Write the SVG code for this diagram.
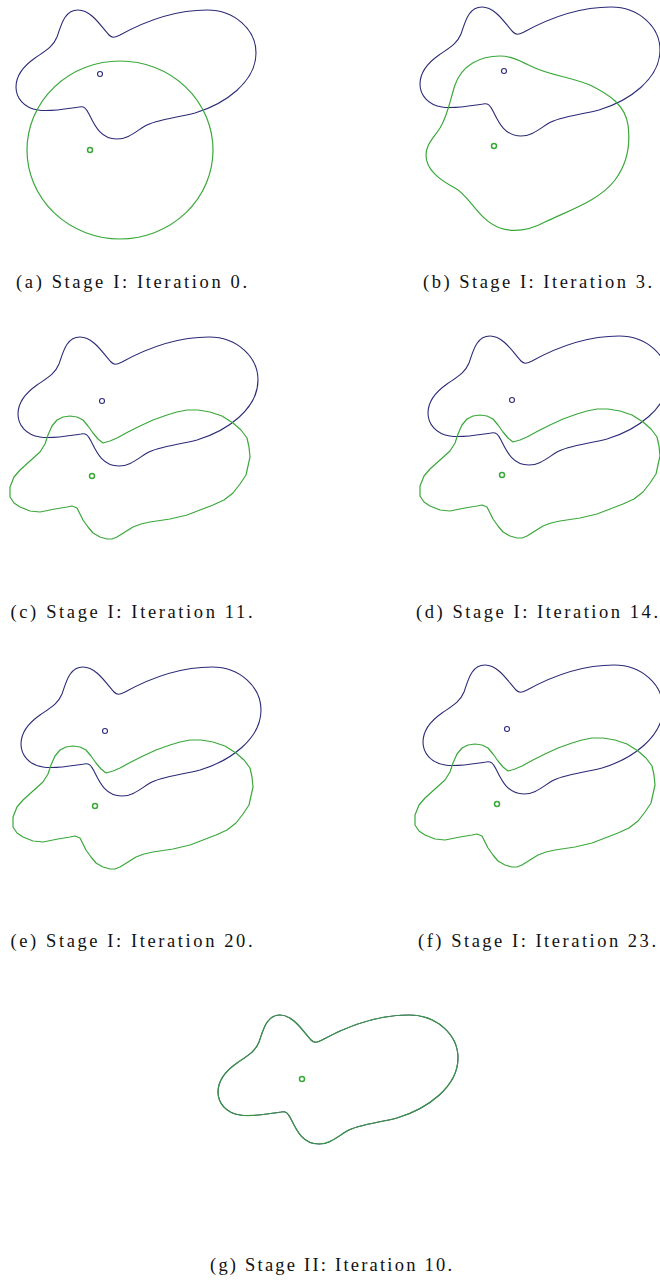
<svg xmlns="http://www.w3.org/2000/svg" xmlns:xlink="http://www.w3.org/1999/xlink" width="660" height="1280" viewBox="0 0 660 1280">
<style>
.b{fill:none;stroke:#2b2b78;stroke-width:1.1;stroke-linejoin:round}
.g{fill:none;stroke:#3aa83a;stroke-width:1.2;stroke-linejoin:round}
.mb{fill:none;stroke:#2b2b78;stroke-width:1.1}
.mg{fill:none;stroke:#3aa83a;stroke-width:1.5}
.cap{font-family:"Liberation Serif","DejaVu Serif",serif;font-size:18.5px;fill:#111;text-anchor:middle}
</style>
<defs>
<path id="tpl" d="M16,87 C16,75 25,65 35,58 C45,51 53,47 57,37 C61,26 64,10 78,10 C92,10 102,28 109,35 C112,38 114,38 120,35 C140,24 170,10 207,10 C235,10 256,30 256,53 C256,82 225,104 195,113 C175,118 155,120 145,126 C135,132 128,139 117,139 C100,139 94,124 89,114 C86,108 84,106 79,107 C65,109 50,112 38,110 C24,108 16,98 16,87 Z"/>
<path id="gc" d="M10,487 L14,477 L20,470 L30,461 L40,452 L45,444 L48,435 L52,426 L57,420 L63,417 L70,416 L77,417 L83,420 L88,426 L93,433 L98,439 L103,443 L110,441 L117,438 L128,432 L140,426 L153,420 L167,415 L177,412 L187,410 L198,410 L210,412 L222,416 L233,423 L241,430 L247,438 L249,447 L250,457 L248,466 L246,475 L240,484 L233,493 L224,500 L213,505 L200,510 L187,515 L170,519 L150,522 L141,524 L133,527 L125,532 L117,537 L112,539 L107,539 L100,537 L93,533 L88,527 L83,520 L80,514 L77,508 L72,506 L67,507 L55,509 L40,512 L30,511 L20,507 L14,503 L10,497 Z"/>
</defs>
<g id="panel-a">
<use href="#tpl" class="b"/>
<circle class="mb" cx="100" cy="74" r="2.5"/>
<ellipse class="g" cx="120" cy="150" rx="93" ry="89"/>
<circle class="mg" cx="90" cy="150" r="2.5"/>
<text class="cap" x="131.5" y="288" textLength="231" lengthAdjust="spacing">(a) Stage I: Iteration 0.</text>
</g>
<g id="panel-b">
<use href="#tpl" class="b" transform="translate(404,-3)"/>
<circle class="mb" cx="504" cy="71" r="2.5"/>
<path class="g" d="M500,56 C480,56 462,65 455,85 C450,100 448,115 440,128 C432,140 426,145 426,155 C426,170 440,180 455,188 C470,196 478,220 500,228 C515,233 530,230 545,222 C570,210 600,200 615,180 C630,160 630,140 628,125 C625,105 610,95 590,85 C570,77 550,75 535,68 C522,62 512,56 500,56 Z"/>
<circle class="mg" cx="494" cy="146" r="2.5"/>
<text class="cap" x="537.5" y="288" textLength="229" lengthAdjust="spacing">(b) Stage I: Iteration 3.</text>
</g>
<g id="panel-c">
<use href="#tpl" class="b" transform="translate(2,327)"/>
<circle class="mb" cx="102" cy="401" r="2.5"/>
<use href="#gc" class="g"/>
<circle class="mg" cx="92" cy="476" r="2.5"/>
<text class="cap" x="131.5" y="617.5" textLength="242" lengthAdjust="spacing">(c) Stage I: Iteration 11.</text>
</g>
<g id="panel-d">
<use href="#tpl" class="b" transform="translate(412,326)"/>
<circle class="mb" cx="512" cy="400" r="2.5"/>
<use href="#gc" class="g" transform="translate(410,-1)"/>
<circle class="mg" cx="502" cy="475" r="2.5"/>
<text class="cap" x="537" y="617.5" textLength="242" lengthAdjust="spacing">(d) Stage I: Iteration 14.</text>
</g>
<g id="panel-e">
<use href="#tpl" class="b" transform="translate(5,657)"/>
<circle class="mb" cx="105" cy="731" r="2.5"/>
<use href="#gc" class="g" transform="translate(3,330)"/>
<circle class="mg" cx="95" cy="806" r="2.5"/>
<text class="cap" x="131.5" y="947" textLength="242" lengthAdjust="spacing">(e) Stage I: Iteration 20.</text>
</g>
<g id="panel-f">
<use href="#tpl" class="b" transform="translate(407,655)"/>
<circle class="mb" cx="507" cy="729" r="2.5"/>
<use href="#gc" class="g" transform="translate(405,328)"/>
<circle class="mg" cx="497" cy="804" r="2.5"/>
<text class="cap" x="537" y="947" textLength="238" lengthAdjust="spacing">(f) Stage I: Iteration 23.</text>
</g>
<g id="panel-g">
<use href="#tpl" class="b" transform="translate(202,1005)"/>
<use href="#tpl" class="g" transform="translate(202,1005)" style="stroke-opacity:0.85"/>
<circle class="mg" cx="302" cy="1079" r="2.5"/>
<text class="cap" x="331" y="1271" textLength="242" lengthAdjust="spacing">(g) Stage II: Iteration 10.</text>
</g>
</svg>
